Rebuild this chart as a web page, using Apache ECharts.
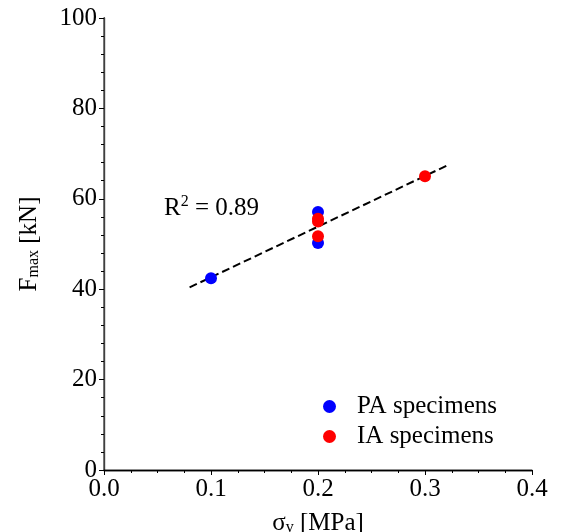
<!DOCTYPE html>
<html>
<head>
<meta charset="utf-8">
<script src="https://cdn.jsdelivr.net/npm/echarts@6/dist/echarts.min.js"></script>
<style>
  html, body { margin: 0; padding: 0; background: #fff; }
  #chart { width: 563px; height: 532px; }
</style>
</head>
<body>
<div id="chart"></div>
<script>
// sigma_v [MPa] vs Fmax [kN]
var paPoints = [[0.1, 42.4], [0.2, 57.1], [0.2, 50.2]];
var iaPoints = [[0.2, 55.6], [0.2, 55.0], [0.2, 51.7], [0.3, 65.0]];
var fitLine = [[0.08, 40.4], [0.32, 67.3]];
var xTicks = [0.0, 0.1, 0.2, 0.3, 0.4];
var yTicks = [0, 20, 40, 60, 80, 100];

var serif = 'Liberation Serif';
var fs = 25;
var chart = echarts.init(document.getElementById('chart'));

var option = {
  animation: false,
  grid: { left: 104, right: 31, top: 18, bottom: 62, outerBoundsMode: 'none', containLabel: false },
  textStyle: { fontFamily: serif },
  legend: {
    left: 318, top: 389,
    orient: 'vertical',
    itemWidth: 13, itemHeight: 13, itemGap: 5,
    icon: 'circle',
    data: ['PA specimens', 'IA specimens'],
    textStyle: { fontFamily: serif, fontSize: fs, color: '#000', padding: [0, 0, 0, 16] }
  },
  xAxis: [{
    type: 'value', min: 0, max: 0.4, interval: 0.1,
    name: '{a|σ}{s|v}{a| [MPa]}', nameLocation: 'middle', nameGap: 40,
    nameTextStyle: {
      rich: {
        a: { fontFamily: serif, fontSize: fs, color: '#000' },
        s: { fontFamily: serif, fontSize: 16, color: '#000', verticalAlign: 'bottom', padding: [10, 0, 0, 0] }
      }
    },
    axisLine: { lineStyle: { color: '#000', width: 1.3 } },
    axisTick: { inside: false, length: 5, lineStyle: { color: '#000' } },
    minorTick: { show: true, splitNumber: 4, length: 3, lineStyle: { color: '#000' } },
    splitLine: { show: false },
    axisLabel: {
      fontFamily: serif, fontSize: fs, color: '#000', margin: 7,
      formatter: function (v) { return xTicks.indexOf(Math.round(v * 10) / 10) >= 0 ? v.toFixed(1) : ''; }
    }
  }, {
    type: 'value', position: 'top', min: 0, max: 0.4,
    axisLine: { show: true, lineStyle: { color: '#000', width: 1.3 } },
    axisTick: { show: false }, axisLabel: { show: false }, splitLine: { show: false }
  }],
  yAxis: [{
    type: 'value', min: 0, max: 100, interval: 20,
    name: '{a|F}{s|max}{a| [kN]}', nameLocation: 'middle', nameGap: 62, nameRotate: 90,
    nameTextStyle: {
      rich: {
        a: { fontFamily: serif, fontSize: fs, color: '#000' },
        s: { fontFamily: serif, fontSize: 16, color: '#000', verticalAlign: 'bottom', padding: [10, 0, 0, 0] }
      }
    },
    axisLine: { show: true, lineStyle: { color: '#000', width: 1.3 } },
    axisTick: { inside: false, length: 5, lineStyle: { color: '#000' } },
    minorTick: { show: true, splitNumber: 5, length: 3, lineStyle: { color: '#000' } },
    splitLine: { show: false },
    axisLabel: {
      fontFamily: serif, fontSize: fs, color: '#000', margin: 7,
      formatter: function (v) { return yTicks.indexOf(v) >= 0 ? String(v) : ''; }
    }
  }, {
    type: 'value', position: 'right', min: 0, max: 100,
    axisLine: { show: true, lineStyle: { color: '#555', width: 1.5 } },
    axisTick: { show: false }, axisLabel: { show: false }, splitLine: { show: false }
  }],
  graphic: [{
    type: 'text', left: 164, top: 194,
    style: {
      text: '{a|R}{p|2}{a| = 0.89}',
      rich: {
        a: { fontFamily: serif, fontSize: fs, fill: '#000' },
        p: { fontFamily: serif, fontSize: 16, fill: '#000', verticalAlign: 'top', padding: [0, 0, 12, 0] }
      }
    }
  }],
  series: [{
    name: 'fit', type: 'line', data: fitLine, symbol: 'none', z: 1,
    lineStyle: { color: '#000', width: 2, type: [8, 4] }
  }, {
    name: 'PA specimens', type: 'scatter', data: paPoints, symbolSize: 12, z: 2,
    itemStyle: { color: '#0000ff', opacity: 1 }
  }, {
    name: 'IA specimens', type: 'scatter', data: iaPoints, symbolSize: 12, z: 3,
    itemStyle: { color: '#ff0000', opacity: 1 }
  }]
};

chart.setOption(option);
</script>
</body>
</html>
